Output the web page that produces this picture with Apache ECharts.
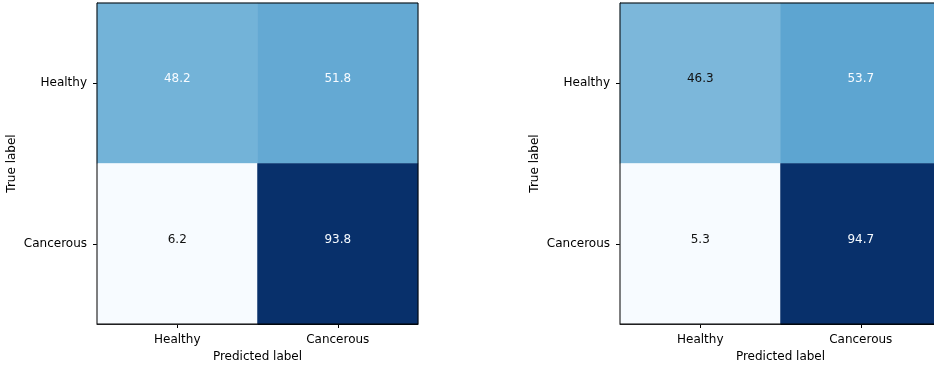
<!DOCTYPE html>
<html>
<head>
<meta charset="utf-8">
<script src="https://cdn.jsdelivr.net/npm/echarts@6/dist/echarts.min.js"></script>
<style>html,body{margin:0;padding:0;background:#fff}#c{width:934px;height:365px}</style>
</head>
<body>
<div id="c"></div>
<script>
// ---- data ----
const predictedLabels = ['Healthy', 'Cancerous'];
const trueLabels = ['Healthy', 'Cancerous'];
// rows = true label, cols = predicted label (percent)
const leftMatrix = [
  [48.2, 51.8],
  [6.2, 93.8]
];
const rightMatrix = [
  [46.3, 53.7],
  [5.3, 94.7]
];

// ---- rendering ----
const BLUES = ['#f7fbff','#deebf7','#c6dbef','#9ecae1','#6baed6','#4292c6','#2171b5','#08519c','#08306b'];
const FONT = 'DejaVu Sans';
// text colour per cell as shown in the reference (true = dark text)
const darkTextLeft = [[false,false],[true,false]];
const darkTextRight = [[true,false],[true,false]];

function toData(m, dark) {
  const out = [];
  for (let r = 0; r < m.length; r++) {
    for (let c = 0; c < m[r].length; c++) {
      out.push({
        value: [c, r, m[r][c]],
        label: { color: dark[r][c] ? '#111111' : '#f7fbff' }
      });
    }
  }
  return out;
}
function flat(m) { return [].concat(...m); }

const grids = [
  { left: 97, top: 3, width: 321, height: 321 },
  { left: 620, top: 3, width: 321, height: 321 }
];

function xAxis(i) {
  return {
    type: 'category', gridIndex: i, data: predictedLabels, position: 'bottom',
    name: 'Predicted label', nameLocation: 'middle', nameGap: 25,
    nameTextStyle: { fontFamily: FONT, fontSize: 12, color: '#000' },
    axisLine: { show: true, lineStyle: { color: '#000', width: 1 } },
    axisTick: { show: true, alignWithLabel: true, length: 4, lineStyle: { color: '#000' } },
    axisLabel: { fontFamily: FONT, fontSize: 12, color: '#000', margin: 10 },
    splitLine: { show: false }
  };
}
function yAxis(i) {
  return {
    type: 'category', gridIndex: i, data: trueLabels, inverse: true,
    name: 'True label', nameLocation: 'middle', nameGap: 79, nameRotate: 90,
    nameTextStyle: { fontFamily: FONT, fontSize: 12, color: '#000' },
    axisLine: { show: true, lineStyle: { color: '#000', width: 1 } },
    axisTick: { show: true, alignWithLabel: true, length: 4, lineStyle: { color: '#000' } },
    axisLabel: { fontFamily: FONT, fontSize: 12, color: '#000', margin: 10 },
    splitLine: { show: false }
  };
}

const lf = flat(leftMatrix), rf = flat(rightMatrix);
const option = {
  animation: false,
  backgroundColor: '#fff',
  grid: grids.map(g => Object.assign({ show: true, borderColor: '#000', borderWidth: 1, backgroundColor: 'transparent', z: 5, containLabel: false, outerBoundsMode: 'none' }, g)),
  xAxis: [xAxis(0), xAxis(1)],
  yAxis: [yAxis(0), yAxis(1)],
  visualMap: [
    { show: false, type: 'continuous', seriesIndex: 0, dimension: 2,
      min: Math.min(...lf), max: Math.max(...lf), inRange: { color: BLUES } },
    { show: false, type: 'continuous', seriesIndex: 1, dimension: 2,
      min: Math.min(...rf), max: Math.max(...rf), inRange: { color: BLUES } }
  ],
  series: [
    { type: 'heatmap', xAxisIndex: 0, yAxisIndex: 0, data: toData(leftMatrix, darkTextLeft),
      label: { show: true, fontFamily: FONT, fontSize: 12, offset: [0, -4], formatter: p => p.value[2].toFixed(1) },
      itemStyle: { borderWidth: 0 }, emphasis: { disabled: true } },
    { type: 'heatmap', xAxisIndex: 1, yAxisIndex: 1, data: toData(rightMatrix, darkTextRight),
      label: { show: true, fontFamily: FONT, fontSize: 12, offset: [0, -4], formatter: p => p.value[2].toFixed(1) },
      itemStyle: { borderWidth: 0 }, emphasis: { disabled: true } }
  ]
};
const chart = echarts.init(document.getElementById('c'), null, { renderer: 'canvas' });
chart.setOption(option);
</script>
</body>
</html>
